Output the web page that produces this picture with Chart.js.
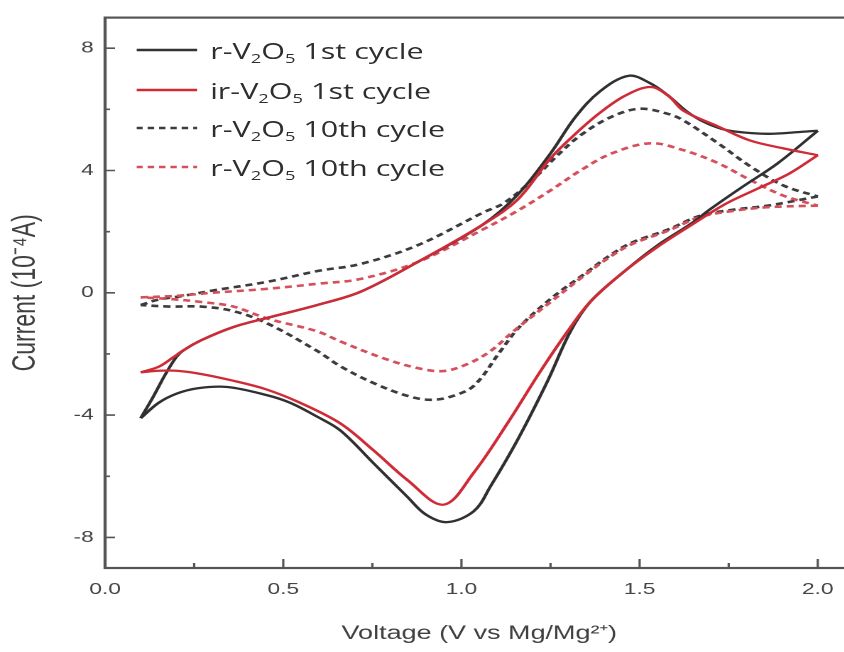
<!DOCTYPE html>
<html>
<head>
<meta charset="utf-8">
<script src="https://cdn.jsdelivr.net/npm/chart.js@4.4.1/dist/chart.umd.min.js"></script>
<style>
  body { margin: 0; background: #fff; }
  #clip { position: relative; width: 844px; height: 652px; overflow: hidden; background: #fff; }
  /* the reference figure is stretched sideways, so the whole stage is too */
  #stage { position: absolute; left: 0; top: 0; width: 620px; height: 652px; transform: scaleX(1.42); transform-origin: 0 0; }
  #legend { position: absolute; left: 96px; top: 0; font-family: "Open Sans", sans-serif; font-size: 21.5px; color: #2e2e2e; }
  .row { position: absolute; left: 0; height: 30px; display: flex; align-items: center; white-space: nowrap; }
  .row svg { margin-right: 9px; }
  .row sub { font-size: 0.6em; vertical-align: -0.28em; line-height: 0; }
</style>
</head>
<body>
<div id="clip">
  <div id="stage">
    <canvas id="cv" width="620" height="652"></canvas>
    <div id="legend"></div>
  </div>
</div>
<script>
// axis ticks
const xTicks = [0, 0.5, 1.0, 1.5, 2.0];
const xMinor = [0.25, 0.75, 1.25, 1.75];
const yTicks = [-8, -4, 0, 4, 8];
const yMinor = [-6, -2, 2, 6];

// r-V2O5 1st cycle (V, 1e-4 A), anodic then cathodic sweep
const r1UpV = [0.10, 0.135, 0.17, 0.20, 0.22, 0.27, 0.36, 0.455, 0.595, 0.716, 0.876, 1.06, 1.157, 1.25, 1.32, 1.39, 1.47, 1.53, 1.58, 1.63, 1.67, 1.72, 1.764, 1.86, 1.95, 2.0];
const r1UpI = [-4.1, -3.4, -2.65, -2.1, -1.88, -1.55, -1.12, -0.82, -0.4, 0.03, 1.0, 2.23, 3.2, 4.56, 5.75, 6.6, 7.1, 6.85, 6.45, 5.95, 5.65, 5.4, 5.28, 5.2, 5.26, 5.3];
const r1DownV = [2.0, 1.888, 1.784, 1.70, 1.643, 1.55, 1.455, 1.362, 1.306, 1.242, 1.157, 1.081, 1.034, 0.96, 0.90, 0.848, 0.753, 0.66, 0.595, 0.52, 0.455, 0.343, 0.26, 0.20, 0.15, 0.10];
const r1DownI = [5.3, 4.24, 3.43, 2.75, 2.25, 1.55, 0.68, -0.29, -1.26, -2.88, -4.82, -6.34, -7.15, -7.5, -7.25, -6.67, -5.57, -4.5, -4.05, -3.6, -3.35, -3.08, -3.12, -3.3, -3.6, -4.1];

// ir-V2O5 1st cycle
const ir1UpV = [0.10, 0.15, 0.19, 0.22, 0.27, 0.36, 0.455, 0.595, 0.716, 0.876, 1.06, 1.157, 1.25, 1.32, 1.39, 1.46, 1.53, 1.58, 1.624, 1.72, 1.81, 1.905, 2.0];
const ir1UpI = [-2.6, -2.42, -2.12, -1.88, -1.55, -1.12, -0.82, -0.4, 0.03, 1.0, 2.23, 3.04, 4.4, 5.2, 5.9, 6.45, 6.73, 6.45, 5.95, 5.44, 4.98, 4.72, 4.5];
const ir1DownV = [2.0, 1.92, 1.83, 1.74, 1.643, 1.55, 1.455, 1.362, 1.298, 1.222, 1.129, 1.034, 0.949, 0.848, 0.753, 0.66, 0.548, 0.45, 0.35, 0.267, 0.20, 0.15, 0.10];
const ir1DownI = [4.5, 3.9, 3.4, 2.9, 2.2, 1.5, 0.68, -0.29, -1.26, -2.56, -4.27, -5.89, -6.93, -6.12, -5.15, -4.27, -3.6, -3.15, -2.85, -2.65, -2.55, -2.55, -2.6];

// r-V2O5 10th cycle (black dashed)
const r10UpV = [0.10, 0.15, 0.22, 0.30, 0.455, 0.60, 0.716, 0.876, 1.06, 1.12, 1.20, 1.27, 1.334, 1.42, 1.50, 1.58, 1.624, 1.72, 1.81, 1.905, 2.0];
const r10UpI = [-0.4, -0.22, -0.1, 0.07, 0.36, 0.72, 0.94, 1.55, 2.62, 2.94, 3.7, 4.5, 5.15, 5.75, 6.02, 5.85, 5.63, 4.89, 4.14, 3.5, 3.15];
const r10DownV = [2.0, 1.86, 1.764, 1.67, 1.58, 1.48, 1.42, 1.343, 1.25, 1.16, 1.11, 1.034, 0.969, 0.913, 0.848, 0.753, 0.66, 0.595, 0.455, 0.36, 0.27, 0.18, 0.10];
const r10DownI = [3.15, 2.85, 2.72, 2.52, 2.07, 1.65, 1.25, 0.6, -0.2, -1.15, -1.9, -3.05, -3.4, -3.5, -3.37, -2.95, -2.4, -1.9, -1.0, -0.6, -0.45, -0.45, -0.4];

// second 10th cycle (red dashed)
const ir10UpV = [0.10, 0.20, 0.30, 0.455, 0.60, 0.716, 0.876, 1.06, 1.16, 1.25, 1.334, 1.42, 1.53, 1.624, 1.72, 1.81, 1.905, 2.0];
const ir10UpI = [-0.15, -0.1, 0.0, 0.13, 0.3, 0.45, 1.0, 2.07, 2.7, 3.35, 4.0, 4.55, 4.89, 4.66, 4.24, 3.69, 3.17, 2.85];
const ir10DownV = [2.0, 1.86, 1.764, 1.67, 1.58, 1.48, 1.42, 1.343, 1.25, 1.146, 1.081, 1.017, 0.949, 0.876, 0.781, 0.66, 0.595, 0.455, 0.36, 0.27, 0.18, 0.10];
const ir10DownI = [2.85, 2.8, 2.68, 2.48, 2.03, 1.6, 1.2, 0.55, -0.3, -1.26, -1.91, -2.33, -2.56, -2.46, -2.14, -1.59, -1.26, -0.84, -0.45, -0.3, -0.2, -0.15];

const legendItems = [
  { html: 'r-V<sub>2</sub>O<sub>5</sub> 1st cycle', color: '#333333', dash: '' },
  { html: 'ir-V<sub>2</sub>O<sub>5</sub> 1st cycle', color: '#cf2b36', dash: '' },
  { html: 'r-V<sub>2</sub>O<sub>5</sub> 10th cycle', color: '#3c3c3c', dash: '4.5 3.5' },
  { html: 'r-V<sub>2</sub>O<sub>5</sub> 10th cycle', color: '#d4505c', dash: '4.5 3.5' }
];
const legendRows = [50, 90, 128, 167];

function pts(vs, is) {
    return vs.map((v, i) => ({ x: v, y: is[i] }));
}

function branch(vs, is, color, dashed) {
    return {
        data: pts(vs, is),
        showLine: true,
        borderColor: color,
        borderWidth: dashed ? 2.6 : 2.3,
        borderDash: dashed ? [5, 3.5] : [],
        pointRadius: 0,
        tension: 0.35,
        fill: false
    };
}

const framePlugin = {
    id: 'frame',
    afterDraw(chart) {
        const { ctx, chartArea: a, scales: { x, y } } = chart;
        ctx.save();
        ctx.strokeStyle = '#555';
        ctx.lineWidth = 2.2;
        ctx.strokeRect(a.left, a.top, a.right - a.left + 40, a.bottom - a.top);
        ctx.lineWidth = 1.6;
        ctx.beginPath();
        xTicks.forEach(v => { const px = x.getPixelForValue(v); ctx.moveTo(px, a.bottom); ctx.lineTo(px, a.bottom - 9); });
        xMinor.forEach(v => { const px = x.getPixelForValue(v); ctx.moveTo(px, a.bottom); ctx.lineTo(px, a.bottom - 5); });
        yTicks.forEach(v => { const py = y.getPixelForValue(v); ctx.moveTo(a.left, py); ctx.lineTo(a.left + 7, py); });
        yMinor.forEach(v => { const py = y.getPixelForValue(v); ctx.moveTo(a.left, py); ctx.lineTo(a.left + 3.5, py); });
        ctx.stroke();
        ctx.restore();
    }
};

const tickFont = { family: '"Liberation Sans", Arial, sans-serif', size: 16 };
const xTitleFont = { family: '"Liberation Sans", Arial, sans-serif', size: 19 };
const yTitleFont = { family: '"Liberation Sans", Arial, sans-serif', size: 23 };

new Chart(document.getElementById('cv'), {
    type: 'scatter',
    data: {
        datasets: [
            branch(ir1UpV, ir1UpI, '#cf2b36', false),
            branch(ir1DownV, ir1DownI, '#cf2b36', false),
            branch(r1UpV, r1UpI, '#303030', false),
            branch(r1DownV, r1DownI, '#303030', false),
            branch(ir10UpV, ir10UpI, '#d4505c', true),
            branch(ir10DownV, ir10DownI, '#d4505c', true),
            branch(r10UpV, r10UpI, '#3c3c3c', true),
            branch(r10DownV, r10DownI, '#3c3c3c', true)
        ]
    },
    options: {
        responsive: false,
        devicePixelRatio: 2,
        animation: false,
        layout: { padding: { left: 0, top: 13, right: 19, bottom: 0 } },
        plugins: { legend: { display: false }, tooltip: { enabled: false } },
        scales: {
            x: {
                type: 'linear', min: 0, max: 2.1,
                afterBuildTicks: axis => { axis.ticks = xTicks.map(v => ({ value: v })); },
                afterFit: axis => { axis.height = 84; },
                grid: { display: false, drawTicks: false },
                border: { display: false },
                ticks: { padding: 12, color: '#444', font: tickFont, callback: v => v.toFixed(1) },
                title: { display: true, text: 'Voltage (V vs Mg/Mg²⁺)', color: '#404040', font: xTitleFont, padding: { top: 0, bottom: 7 } }
            },
            y: {
                type: 'linear', min: -9, max: 9,
                afterBuildTicks: axis => { axis.ticks = yTicks.map(v => ({ value: v })); },
                afterFit: axis => { axis.width = 74; },
                grid: { display: false, drawTicks: false },
                border: { display: false },
                ticks: { padding: 8, color: '#444', font: tickFont, callback: v => String(v) },
                title: { display: true, text: 'Current (10⁻⁴A)', color: '#404040', font: yTitleFont, padding: { top: 4.5, bottom: 0 } }
            }
        }
    },
    plugins: [framePlugin]
});

const legendBox = document.getElementById('legend');
legendItems.forEach((item, i) => {
    const row = document.createElement('div');
    row.className = 'row';
    row.style.top = (legendRows[i] - 15) + 'px';
    row.innerHTML = '<svg width="43" height="6"><line x1="0" y1="3" x2="43" y2="3" stroke="' + item.color +
        '" stroke-width="2.6"' + (item.dash ? ' stroke-dasharray="' + item.dash + '"' : '') + '/></svg><span>' + item.html + '</span>';
    legendBox.appendChild(row);
});
</script>
</body>
</html>
